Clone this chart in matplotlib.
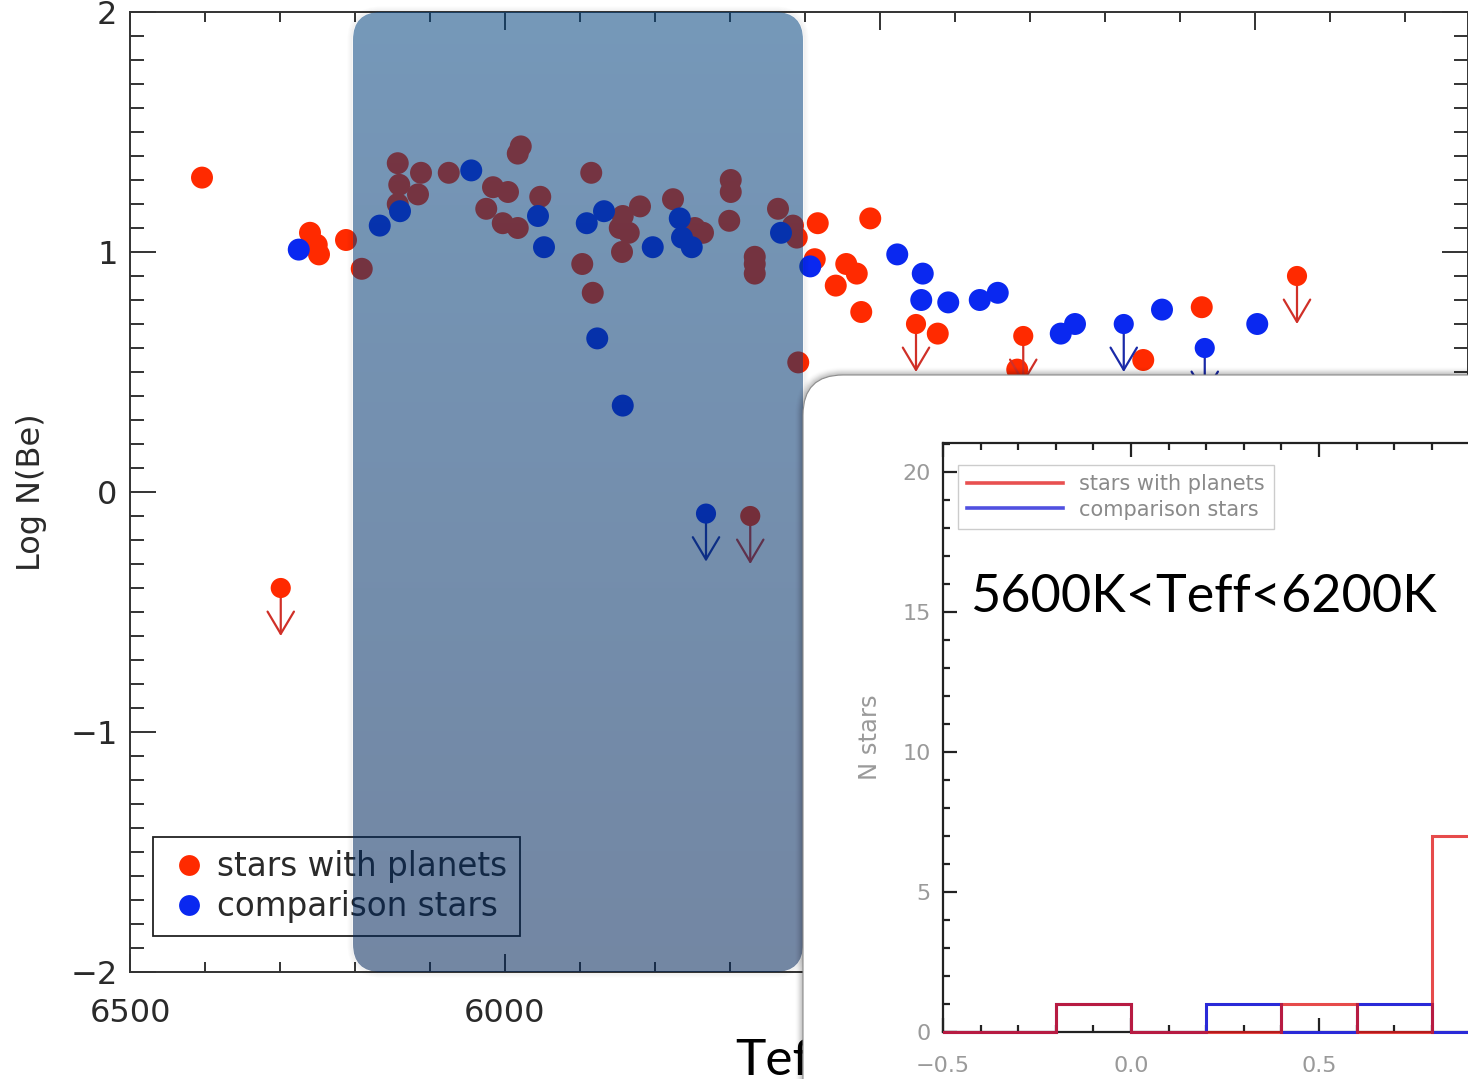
import numpy as np
import matplotlib
matplotlib.use("Agg")
import matplotlib.pyplot as plt
from matplotlib.patches import FancyBboxPatch
from matplotlib.lines import Line2D
from matplotlib.ticker import MultipleLocator
from matplotlib.transforms import Bbox, TransformedBbox

# ---------------- data ----------------
planet_teff = [6404, 6260, 6251, 6248, 6212, 6191, 6143, 6141, 6143, 6112, 6116, 6075,
               5979, 5983, 6016, 5996, 6025, 6003, 5983, 5953, 5885, 5843, 5847, 5835,
               5820, 5844, 5897, 5883, 5776, 5747, 5736, 5699, 5699, 5701, 5667, 5667,
               5667, 5636, 5616, 5611, 5609, 5583, 5513, 5587, 5545, 5531, 5559, 5525,
               5423, 5317, 5149, 5071]
planet_logbe = [1.31, 1.08, 1.03, 0.99, 1.05, 0.93, 1.37, 1.28, 1.20, 1.33, 1.24, 1.33,
                1.44, 1.41, 1.27, 1.25, 1.18, 1.12, 1.10, 1.23, 1.33, 1.15, 1.10, 1.08,
                1.19, 1.00, 0.95, 0.83, 1.22, 1.10, 1.08, 1.30, 1.25, 1.13, 0.98, 0.95,
                0.91, 1.18, 1.11, 1.06, 0.54, 1.12, 1.14, 0.97, 0.95, 0.91, 0.86, 0.75,
                0.66, 0.51, 0.55, 0.77]
comp_teff = [6275, 6167, 6140, 6045, 5956, 5948, 5891, 5868, 5877, 5843, 5803, 5767,
             5764, 5751, 5632, 5593, 5477, 5443, 5445, 5409, 5367, 5343, 5259, 5240,
             5124, 4997]
comp_logbe = [1.01, 1.11, 1.17, 1.34, 1.15, 1.02, 1.12, 1.17, 0.64, 0.36, 1.02, 1.14,
              1.06, 1.02, 1.08, 0.94, 0.99, 0.91, 0.80, 0.79, 0.80, 0.83, 0.66, 0.70,
              0.76, 0.70]
planet_lim_teff = [6299, 5673, 5452, 5309, 4944]
planet_lim_logbe = [-0.40, -0.10, 0.70, 0.65, 0.90]
comp_lim_teff = [5732, 5175, 5067]
comp_lim_logbe = [-0.09, 0.70, 0.60]

hist_edges = [-0.6, -0.4, -0.2, 0.0, 0.2, 0.4, 0.6, 0.8, 1.0]
hist_planets = [0, 0, 1, 0, 0, 1, 0, 7]
hist_comparison = [0, 0, 1, 0, 1, 0, 1, 0]

labels = ["stars with planets", "comparison stars"]

# ---------------- style ----------------
W, H = 1468, 1079
RED = "#ff2a00"
BLUE = "#0a28f0"
RED_ARR = "#d03028"
BLUE_ARR = "#1a2aa8"
TXT = "#2a2a2a"
plt.rcParams["font.family"] = ["DejaVu Sans"]

fig = plt.figure(figsize=(W / 100, H / 100), dpi=100)

def fx(px):
    return px / W

def fy(py):
    return (H - py) / H

# ---------------- main axes ----------------
ax = fig.add_axes([fx(130), fy(972), (W - 130) / W, 960 / H], zorder=0)
ax.set_xlim(6500, 6500 - (W - 130) / 0.75)
ax.set_ylim(-2, 2)
ax.xaxis.set_major_locator(MultipleLocator(500))
ax.xaxis.set_minor_locator(MultipleLocator(100))
ax.yaxis.set_major_locator(MultipleLocator(1))
ax.yaxis.set_minor_locator(MultipleLocator(0.1))
ax.tick_params(which="both", direction="in", top=True, right=True,
               colors="#333333", labelcolor=TXT, labelsize=23, width=1.4)
ax.tick_params(axis="x", which="major", length=13, pad=19)
ax.tick_params(axis="x", which="minor", length=7)
ax.tick_params(axis="y", which="major", length=19, pad=9)
ax.tick_params(axis="y", which="minor", length=10)
for s in ax.spines.values():
    s.set_color("#333333")
    s.set_linewidth(1.4)
ax.set_ylabel("Log N(Be)", fontsize=23, color=TXT)
ax.yaxis.set_label_coords(-0.062, 0.5)

ax.scatter(planet_teff, planet_logbe, s=250, c=RED, edgecolors="none", zorder=3)
ax.scatter(comp_teff, comp_logbe, s=250, c=BLUE, edgecolors="none", zorder=4)

def limits(teffs, bes, col, acol):
    ax.scatter(teffs, bes, s=210, c=col, edgecolors="none", zorder=4)
    for t, b in zip(teffs, bes):
        ax.annotate("", xy=(t, b - 0.2), xytext=(t, b),
                    arrowprops=dict(arrowstyle="->,head_length=1.6,head_width=0.95",
                                    color=acol, lw=1.6, shrinkA=0, shrinkB=0,
                                    mutation_scale=10), zorder=3)

limits(planet_lim_teff, planet_lim_logbe, RED, RED_ARR)
limits(comp_lim_teff, comp_lim_logbe, BLUE, BLUE_ARR)

handles = [Line2D([], [], ls="none", marker="o", markersize=15, color=RED, mec="none"),
           Line2D([], [], ls="none", marker="o", markersize=15, color=BLUE, mec="none")]
leg = ax.legend(handles, labels, loc="lower left", bbox_to_anchor=(0.0172, 0.0375),
                borderaxespad=0, fancybox=False, framealpha=1, edgecolor="#222222",
                fontsize=23.5, handletextpad=0.15, borderpad=0.4, labelspacing=0.2,
                handlelength=1.4)
leg.get_frame().set_linewidth(1.3)
for t in leg.get_texts():
    t.set_color(TXT)

fig.text(fx(735), fy(1075), "Teff", fontsize=37, family="Lato", color="black",
         va="baseline", ha="left", zorder=2)

# ---------------- overlay shapes ----------------
ov = fig.add_axes([0, 0, 1, 1], zorder=5)
ov.set_xlim(0, W)
ov.set_ylim(H, 0)
ov.axis("off")
ov.patch.set_alpha(0)

for i in range(1, 6):
    ov.add_patch(FancyBboxPatch((353, 12), 450, 960,
                                boxstyle=f"round,pad={i},rounding_size={28 + i}",
                                fc="none", ec=(0, 0, 0, 0.05 * (6 - i) / 5), lw=0.9, zorder=1))

top_c = np.array([5, 68, 128]) / 255
bot_c = np.array([0, 36, 88]) / 255
t = np.linspace(0, 1, 256)[:, None]
grad = np.zeros((256, 1, 4))
grad[:, 0, :3] = top_c * (1 - t) + bot_c * t
grad[:, 0, 3] = 0.55
im = ov.imshow(grad, extent=(353, 803, 972, 12), aspect="auto", zorder=2,
               interpolation="bilinear")
clip = FancyBboxPatch((353, 12), 450, 960, boxstyle="round,pad=0,rounding_size=28",
                      fc="none", ec="none", transform=ov.transData)
ov.add_patch(clip)
im.set_clip_path(clip)

for i in range(8, 0, -1):
    ov.add_patch(FancyBboxPatch((803, 375), 900, 900,
                                boxstyle=f"round,pad={i},rounding_size={40 + i}",
                                fc=(0, 0, 0, 0.06 * (9 - i) / 8), ec="none", zorder=3))
ov.add_patch(FancyBboxPatch((803, 375), 900, 900, boxstyle="round,pad=0,rounding_size=40",
                            fc="white", ec=(0.55, 0.55, 0.55), lw=0.8, zorder=4))

# ---------------- inset histogram ----------------
GRAY = "#9a9a9a"
hx = fig.add_axes([fx(943), fy(1032), (W - 943) / W, (1032 - 443) / H], zorder=10)
hx.patch.set_alpha(0)
hx.set_xlim(-0.5, -0.5 + (W - 943) / 376)
hx.set_ylim(0, 21.04)
hx.xaxis.set_major_locator(MultipleLocator(0.5))
hx.xaxis.set_minor_locator(MultipleLocator(0.1))
hx.yaxis.set_major_locator(MultipleLocator(5))
hx.yaxis.set_minor_locator(MultipleLocator(1))
hx.tick_params(which="both", direction="in", top=True, right=False, colors="#222222",
               labelcolor=GRAY, labelsize=16, width=1.6)
hx.tick_params(which="major", length=10)
hx.tick_params(which="minor", length=5)
hx.tick_params(axis="x", pad=17)
hx.tick_params(axis="y", pad=9)
hx.spines["right"].set_visible(False)
for k in ["left", "top", "bottom"]:
    hx.spines[k].set_color("#222222")
    hx.spines[k].set_linewidth(1.6)
hx.set_ylabel("N stars", fontsize=17.5, color=GRAY)
hx.yaxis.set_label_coords(-0.117, 0.50)

cb = TransformedBbox(Bbox([[-0.5, -1.0], [2.0, 21.04]]), hx.transData)
st_b = hx.stairs(hist_comparison, hist_edges, color="#2a2ad8", lw=2.2, zorder=3)
st_r = hx.stairs(hist_planets, hist_edges, color="#e01818", lw=2.2, alpha=0.78, zorder=4)
for st in (st_b, st_r):
    st.set_clip_box(cb)

hh = [Line2D([], [], color="#e85050", lw=2.6), Line2D([], [], color="#5050e0", lw=2.6)]
hleg = hx.legend(hh, labels, loc="upper left", bbox_to_anchor=(0.0286, 0.9626),
                 borderaxespad=0, fancybox=False, framealpha=1, edgecolor="#cccccc",
                 fontsize=15, handlelength=4.6, handletextpad=0.75, borderpad=0.45,
                 labelspacing=0.25)
for tt in hleg.get_texts():
    tt.set_color("#8a8a8a")

fig.text(fx(970), fy(612), "5600K<Teff<6200K", fontsize=37.5, family="Lato",
         color="black", va="baseline", ha="left", zorder=20)

fig.savefig("out.png", dpi=100)
